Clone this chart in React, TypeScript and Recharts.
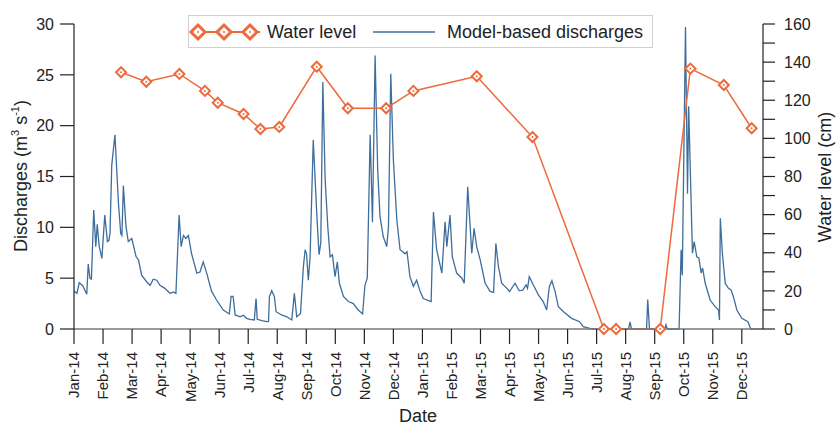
import React from 'react';
import { ComposedChart, Line, XAxis, YAxis } from 'recharts';

// Month tick labels (tick i sits at the 1st of month i, counted from Jan 2014)
const monthLabels = [
  'Jan-14', 'Feb-14', 'Mar-14', 'Apr-14', 'May-14', 'Jun-14', 'Jul-14', 'Aug-14',
  'Sep-14', 'Oct-14', 'Nov-14', 'Dec-14', 'Jan-15', 'Feb-15', 'Mar-15', 'Apr-15',
  'May-15', 'Jun-15', 'Jul-15', 'Aug-15', 'Sep-15', 'Oct-15', 'Nov-15', 'Dec-15',
];
const xEnd = 23.73;

// Model-based discharges: time (months since 1 Jan 2014) and value (m3/s)
const dischargeT = [
  0.0, 0.03, 0.1, 0.18, 0.3, 0.44, 0.49, 0.55, 0.6, 0.68, 0.75, 0.8, 0.87, 0.96, 1.06, 1.15, 1.2, 1.24,
  1.3, 1.41, 1.53, 1.61, 1.65, 1.7, 1.79, 1.87, 1.99, 2.14, 2.22, 2.33, 2.5, 2.62, 2.73, 2.85, 2.96,
  3.13, 3.31, 3.42, 3.51, 3.62, 3.69, 3.77, 3.85, 3.94, 4.05, 4.23, 4.34, 4.45, 4.57, 4.74, 4.91, 5.14,
  5.35, 5.41, 5.48, 5.55, 5.72, 5.83, 5.95, 6.06, 6.21, 6.27, 6.31, 6.47, 6.64, 6.7, 6.73, 6.81, 6.9,
  6.96, 7.15, 7.33, 7.5, 7.59, 7.67, 7.8, 7.9, 7.96, 8.01, 8.07, 8.13, 8.24, 8.36, 8.44, 8.5, 8.57,
  8.65, 8.74, 8.82, 8.9, 8.99, 9.07, 9.14, 9.28, 9.45, 9.62, 9.79, 9.94, 10.02, 10.1, 10.2, 10.28,
  10.37, 10.46, 10.54, 10.65, 10.77, 10.83, 10.91, 11.0, 11.12, 11.23, 11.32, 11.4, 11.47, 11.57,
  11.69, 11.8, 11.92, 12.03, 12.3, 12.38, 12.49, 12.67, 12.78, 12.84, 12.95, 13.03, 13.18, 13.36,
  13.44, 13.56, 13.7, 13.78, 13.87, 13.99, 14.16, 14.33, 14.45, 14.53, 14.62, 14.73, 14.91, 15.0,
  15.19, 15.33, 15.45, 15.57, 15.62, 15.68, 15.82, 16.0, 16.16, 16.28, 16.37, 16.46, 16.57, 16.68,
  16.86, 17.14, 17.41, 17.54, 17.77, 17.9, 19.1, 19.15, 19.2, 19.72, 19.76, 19.82, 20.35, 20.39,
  20.43, 20.84, 20.91, 20.95, 21.06, 21.13, 21.17, 21.3, 21.36, 21.45, 21.52, 21.6, 21.65, 21.74,
  21.91, 22.08, 22.2, 22.23, 22.26, 22.33, 22.43, 22.54, 22.63, 22.71, 22.83, 23.0, 23.21, 23.31, 23.73,
];
const dischargeQ = [
  3.7, 3.67, 3.5, 4.55, 4.26, 3.41, 6.39, 4.98, 4.9, 11.7, 8.1, 10.3, 8.1, 6.95, 11.2, 8.6, 8.7, 9.4,
  16.1, 19.1, 12.4, 9.4, 9.2, 14.1, 10.1, 8.6, 8.9, 7.1, 6.8, 5.3, 4.65, 4.3, 4.9, 4.8, 4.3,
  4.0, 3.5, 3.65, 3.5, 11.2, 8.1, 9.2, 8.9, 9.2, 7.4, 5.5, 5.6, 6.6, 5.5, 3.7, 2.85, 1.87,
  1.48, 3.2, 3.2, 1.38, 1.2, 1.35, 1.05, 0.95, 0.89, 3.0, 0.95, 0.82, 0.72, 0.75, 3.18, 3.77, 3.2,
  1.7, 1.38, 1.2, 0.89, 3.5, 1.2, 1.5, 6.1, 7.8, 7.4, 4.8, 7.0, 18.6, 11.4, 7.3, 8.5, 24.3,
  14.7, 10.1, 7.1, 7.3, 5.15, 6.6, 4.5, 3.2, 2.7, 2.5, 1.87, 1.48, 4.3, 5.0, 19.1, 10.5,
  26.9, 15.6, 11.05, 9.1, 8.1, 10.0, 25.1, 16.6, 10.7, 7.8, 7.6, 7.4, 7.6, 5.15,
  4.2, 4.8, 3.7, 3.0, 2.7, 11.5, 7.8, 5.5, 10.55, 8.1, 11.2, 7.1, 5.5, 5.0,
  4.5, 14.0, 7.45, 9.9, 8.1, 6.8, 4.5, 3.7, 3.6, 8.4, 6.1, 4.5, 4.0, 3.67,
  4.5, 3.77, 3.8, 4.33, 4.0, 5.15, 4.33, 3.34, 2.7, 1.87, 4.16, 4.75, 3.67, 2.2,
  1.7, 1.05, 0.72, 0.23, 0.07, 0, 0, 0.7, 0, 0, 2.9, 0, 0, 0.4,
  0, 0, 7.8, 5.3, 29.7, 13.3, 21.9, 7.45, 8.6, 7.1, 7.0, 5.5, 6.0, 4.5,
  2.85, 2.2, 1.87, 0.89, 10.9, 7.45, 4.5, 4.0, 3.84, 3.18, 1.87, 1.05, 0.72, 0, 0,
];

// Water level observations: time (months since 1 Jan 2014) and level (cm)
const waterT = [
  1.62, 2.49, 3.63, 4.51, 4.95, 5.84, 6.42, 7.07, 8.36, 9.43, 10.75, 11.69, 13.87, 15.79, 18.25,
  18.67, 20.19, 21.23, 22.38, 23.34,
];
const waterLevel = [
  134.7, 129.7, 133.8, 124.9, 118.7, 112.8, 104.9, 106, 137.6, 115.8, 115.8, 124.9, 132.6, 100.7, 0,
  0, 0, 136.6, 128, 105.3,
];

const leftTicks = [0, 5, 10, 15, 20, 25, 30];
const rightTicks = [0, 10, 20, 30, 40, 50, 60, 70, 80, 90, 100, 110, 120, 130, 140, 150, 160];

const ORANGE = '#EC6A3C';
const BLUE = '#3F6D9C';
const FONT = '"Liberation Sans", Arial, Helvetica, sans-serif';
const TEXT = '#222';

const rows: any[] = [
  ...dischargeT.map((t, i) => ({ t, q: dischargeQ[i] })),
  ...waterT.map((t, i) => ({ t, wl: waterLevel[i] })),
].sort((a, b) => a.t - b.t);

const monthTicks = monthLabels.map((_, i) => i);

const DateTick = (props: any) => {
  const { x, y, payload } = props;
  return (
    <text
      x={x}
      y={y}
      transform={`rotate(-90, ${x}, ${y})`}
      textAnchor="end"
      dy="0.36em"
      fontSize={15}
      fontFamily={FONT}
      fill={TEXT}
    >
      {monthLabels[payload.value]}
    </text>
  );
};

const Diamond = (props: any) => {
  const { cx, cy, payload, index } = props;
  if (payload == null || payload.wl == null || cx == null || cy == null) return <g key={`d${index}`} />;
  const r = 5;
  return (
    <g key={`d${index}`}>
      <path
        d={`M${cx},${cy - r}L${cx + r},${cy}L${cx},${cy + r}L${cx - r},${cy}Z`}
        fill="#fff"
        stroke={ORANGE}
        strokeWidth={2}
      />
      <circle cx={cx} cy={cy} r={1} fill={ORANGE} />
    </g>
  );
};

const LegendDiamond = ({ x, y }: { x: number; y: number }) => {
  const r = 7;
  return (
    <g>
      <path
        d={`M${x},${y - r}L${x + r},${y}L${x},${y + r}L${x - r},${y}Z`}
        fill="#fff"
        stroke={ORANGE}
        strokeWidth={3}
      />
      <circle cx={x} cy={y} r={1} fill={ORANGE} />
    </g>
  );
};

export default function App() {
  return (
    <div style={{ position: 'relative', width: 837, height: 426, background: '#fff' }}>
      <style>{'body{margin:0;}'}</style>
      <ComposedChart
        width={837}
        height={426}
        data={rows}
        margin={{ top: 24, right: 0, bottom: 0, left: 0 }}
      >
        <XAxis
          dataKey="t"
          type="number"
          domain={[0, xEnd]}
          ticks={monthTicks}
          interval={0}
          allowDataOverflow
          height={97}
          tickSize={15}
          tickMargin={8}
          tick={<DateTick />}
          axisLine={{ stroke: '#777', strokeWidth: 1.5 }}
          tickLine={{ stroke: '#222', strokeWidth: 1.2 }}
          label={{
            content: () => (
              <text x={418} y={417} textAnchor="middle" dominantBaseline="middle" fontSize={18} fontFamily={FONT} fill={TEXT}>
                Date
              </text>
            ),
          }}
        />
        <YAxis
          yAxisId="left"
          orientation="left"
          width={74}
          domain={[0, 30]}
          ticks={leftTicks}
          interval={0}
          tickSize={14}
          tickMargin={6}
          tick={{ fontSize: 16, fontFamily: FONT, fill: TEXT }}
          axisLine={{ stroke: '#222', strokeWidth: 1.2 }}
          tickLine={{ stroke: '#222', strokeWidth: 1.2 }}
          label={{
            content: () => (
              <text
                x={22}
                y={176}
                transform="rotate(-90, 22, 176)"
                textAnchor="middle"
                dominantBaseline="middle"
                fontSize={18}
                fontFamily={FONT}
                fill={TEXT}
              >
                Discharges (m
                <tspan dy={-6} fontSize={11}>3</tspan>
                <tspan dy={6}> s</tspan>
                <tspan dy={-6} fontSize={11}>-1</tspan>
                <tspan dy={6}>)</tspan>
              </text>
            ),
          }}
        />
        <YAxis
          yAxisId="right"
          orientation="right"
          width={74}
          domain={[0, 160]}
          ticks={rightTicks}
          interval={0}
          tickSize={12}
          tickMargin={9}
          tickFormatter={(v: number) => (v % 20 === 0 ? String(v) : '')}
          tick={{ fontSize: 16, fontFamily: FONT, fill: TEXT }}
          axisLine={{ stroke: '#222', strokeWidth: 1.2 }}
          tickLine={{ stroke: '#222', strokeWidth: 1.2 }}
          label={{
            content: () => (
              <text
                x={826}
                y={177}
                transform="rotate(-90, 826, 177)"
                textAnchor="middle"
                dominantBaseline="middle"
                fontSize={18}
                fontFamily={FONT}
                fill={TEXT}
              >
                Water level (cm)
              </text>
            ),
          }}
        />
        <Line
          yAxisId="left"
          type="linear"
          dataKey="q"
          stroke={BLUE}
          strokeWidth={1.3}
          dot={false}
          activeDot={false}
          connectNulls
          isAnimationActive={false}
        />
        <Line
          yAxisId="right"
          type="linear"
          dataKey="wl"
          stroke={ORANGE}
          strokeWidth={1.5}
          dot={<Diamond />}
          activeDot={false}
          connectNulls
          isAnimationActive={false}
        />
      </ComposedChart>
      <div
        style={{
          position: 'absolute',
          left: 188,
          top: 15,
          width: 465,
          height: 33,
          border: '1px solid #d0d0d0',
          boxSizing: 'border-box',
          background: '#fff',
        }}
      >
        <svg width={465} height={33} style={{ position: 'absolute', left: -1, top: -1 }}>
          <line x1={3} y1={17} x2={72} y2={17} stroke={ORANGE} strokeWidth={2} />
          <LegendDiamond x={10} y={17} />
          <LegendDiamond x={36} y={17} />
          <LegendDiamond x={62} y={17} />
          <text x={79} y={17} dominantBaseline="central" fontSize={18} fontFamily={FONT} fill={TEXT}>
            Water level
          </text>
          <line x1={185} y1={17} x2={247} y2={17} stroke={BLUE} strokeWidth={1.3} />
          <text x={259} y={17} dominantBaseline="central" fontSize={18} fontFamily={FONT} fill={TEXT}>
            Model-based discharges
          </text>
        </svg>
      </div>
    </div>
  );
}
